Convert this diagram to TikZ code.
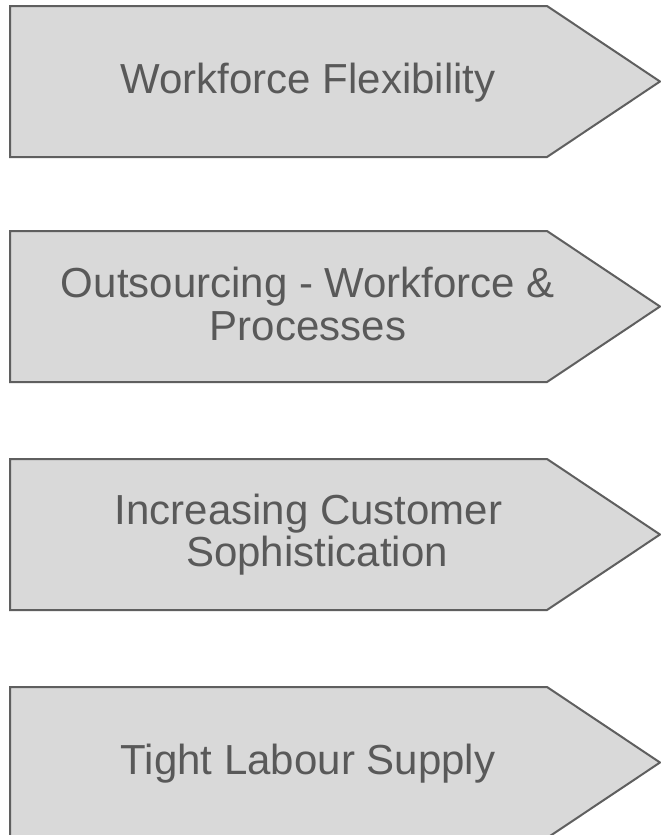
\documentclass[tikz,border=0pt]{standalone}
\usepackage{fontspec}
\setmainfont{Liberation Sans}
\begin{document}
\begin{tikzpicture}[x=1pt,y=-1pt,
  arrowbox/.style={draw=boxline,fill=boxfill,line width=2pt,line join=miter},
  label/.style={text=txtgrey,font=\fontsize{42}{48}\selectfont,anchor=base,inner sep=0pt}]
\definecolor{boxline}{HTML}{5F5F5F}
\definecolor{boxfill}{HTML}{D9D9D9}
\definecolor{txtgrey}{HTML}{595959}
\clip (0,0) rectangle (661,835);
\fill[white] (0,0) rectangle (661,835);
% shapes: top y, height 151
\foreach \t/\n in {6/a,231/b,459/c,687/d}{
  \draw[arrowbox] (10,\t) -- (547,\t) -- (660,\t+75.5) -- (547,\t+151) -- (10,\t+151) -- cycle;
}
\node[label] (t1) at (308,93) {Workforce Flexibility};
\node[label] (t2a) at (308,297) {Outsourcing - Workforce \&};
\node[label] (t2b) at (308,340) {Processes};
\node[label] (t3a) at (308.5,524) {Increasing Customer};
\node[label] (t3b) at (317,566) {Sophistication};
\node[label] (t4) at (308,774) {Tight Labour Supply};
\end{tikzpicture}
\end{document}
